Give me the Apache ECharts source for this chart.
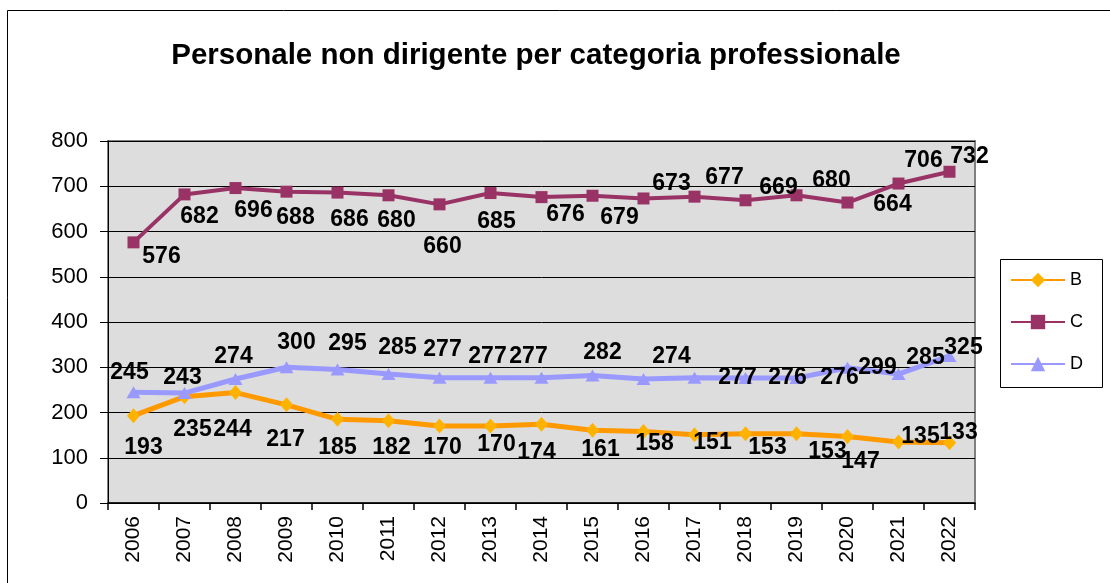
<!DOCTYPE html>
<html>
<head>
<meta charset="utf-8">
<script src="https://cdn.jsdelivr.net/npm/echarts@6/dist/echarts.min.js"></script>
<style>
html,body{margin:0;padding:0;background:#fff;}
#chart{width:1110px;height:583px;}
</style>
</head>
<body>
<div id="chart"></div>
<script>
// ---- data ----
const years = ['2006','2007','2008','2009','2010','2011','2012','2013','2014','2015','2016','2017','2018','2019','2020','2021','2022'];
const valuesB = [193,235,244,217,185,182,170,170,174,161,158,151,153,153,147,135,133];
const valuesC = [576,682,696,688,686,680,660,685,676,679,673,677,669,680,664,706,732];
const valuesD = [245,243,274,300,295,285,277,277,277,282,274,277,276,276,299,285,325];
const yTicks = [0,100,200,300,400,500,600,700,800];

// ---- label placement (layout only) ----
const offB = [[10,32],[8,33],[-3,37],[-1,35],[0,28],[3,27],[3,22],[6,19],[-5,28],[8,20],[11,12],[18,8],[22,14],[31,18],[13,25],[22,-5],[9,-10]];
const offC = [[28,14],[15,22],[18,23],[9,26],[12,27],[8,25],[3,42],[6,29],[24,18],[27,22],[28,-15],[30,-19],[33,-13],[35,-15],[45,2],[25,-23],[20,-15]];
const offD = [[-4,-19],[-2,-15],[-2,-22],[10,-25],[10,-26],[9,-26],[3,-28],[-3,-21],[-13,-21],[10,-23],[28,-22],[43,0],[42,0],[43,0],[30,0],[27,-16],[14,-8]];

const FONT = '"Liberation Sans", Arial, sans-serif';

function withLabels(vals, offs) {
  return vals.map((v, i) => ({
    value: v,
    label: { offset: offs[i] }
  }));
}

const labelBase = {
  show: true,
  position: 'inside',
  color: '#000',
  fontFamily: FONT,
  fontWeight: 'bold',
  fontSize: 23
};

const chart = echarts.init(document.getElementById('chart'), null, {renderer: 'canvas'});

chart.setOption({
  animation: false,
  backgroundColor: '#ffffff',
  textStyle: { fontFamily: FONT },
  title: {
    text: 'Personale non dirigente per categoria professionale',
    left: 531,
    textAlign: 'center',
    top: 36,
    textStyle: { fontFamily: FONT, fontWeight: 'bold', fontSize: 29.5, color: '#000' }
  },
  graphic: [
    { type: 'rect', shape: { x: 7.5, y: 10.5, width: 1200, height: 700 }, style: { fill: 'none', stroke: '#000', lineWidth: 1 }, z: -10 },
    { type: 'rect', shape: { x: 1000.5, y: 259.5, width: 102, height: 128 }, style: { fill: '#fff', stroke: '#000', lineWidth: 1 }, z: -5 }
  ],
  legend: {
    orient: 'vertical',
    left: 1010,
    top: 271,
    itemWidth: 54,
    itemHeight: 18,
    itemGap: 24,
    padding: 0,
    textStyle: { fontFamily: FONT, fontSize: 18, color: '#000', lineHeight: 18 },
    data: ['B', 'C', 'D']
  },
  grid: {
    left: 108,
    right: 135,
    top: 141,
    bottom: 80,
    show: true,
    backgroundColor: '#DDDDDD',
    borderColor: '#808080',
    borderWidth: 2
  },
  xAxis: {
    type: 'category',
    data: years,
    boundaryGap: true,
    axisLine: { lineStyle: { color: '#000', width: 1.5 } },
    axisTick: { show: true, alignWithLabel: false, length: 7, lineStyle: { color: '#000', width: 1.5 } },
    axisLabel: { rotate: 90, margin: 13, fontSize: 21, color: '#000', fontFamily: FONT, interval: 0 },
    splitLine: { show: false }
  },
  yAxis: {
    type: 'value',
    min: yTicks[0],
    max: yTicks[yTicks.length - 1],
    interval: yTicks[1] - yTicks[0],
    axisLine: { show: true, lineStyle: { color: '#000', width: 1 } },
    axisTick: { show: true, length: 8, lineStyle: { color: '#000' } },
    axisLabel: { margin: 20, fontSize: 22, color: '#000', fontFamily: FONT },
    splitLine: { show: true, lineStyle: { color: '#000', width: 1 } }
  },
  series: [
    {
      name: 'B',
      type: 'line',
      data: withLabels(valuesB, offB),
      symbol: 'diamond',
      symbolSize: [13, 15],
      lineStyle: { color: '#FF9900', width: 5 },
      itemStyle: { color: '#FFB300', borderColor: '#FFB300', borderWidth: 0 },
      label: labelBase,
      z: 3
    },
    {
      name: 'C',
      type: 'line',
      data: withLabels(valuesC, offC),
      symbol: 'rect',
      symbolSize: 12,
      lineStyle: { color: '#993366', width: 4 },
      itemStyle: { color: '#993366' },
      label: labelBase,
      z: 3
    },
    {
      name: 'D',
      type: 'line',
      data: withLabels(valuesD, offD),
      symbol: 'triangle',
      symbolSize: [14, 12],
      lineStyle: { color: '#9999FF', width: 5 },
      itemStyle: { color: '#9999FF' },
      label: labelBase,
      z: 3
    }
  ]
});
</script>
</body>
</html>
